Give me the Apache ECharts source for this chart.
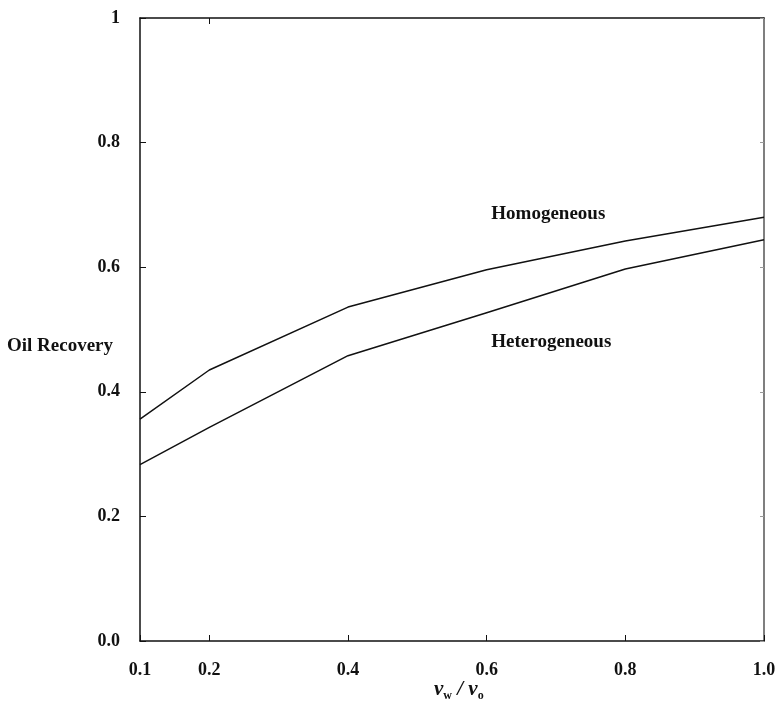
<!DOCTYPE html>
<html>
<head>
<meta charset="utf-8">
<script src="https://cdn.jsdelivr.net/npm/echarts@6/dist/echarts.min.js"></script>
<style>
  html, body { margin: 0; padding: 0; background: #fff; }
  #chart { width: 781px; height: 724px; }
</style>
</head>
<body>
<div id="chart"></div>
<script>
// velocity ratio vw / vo
const ratios = [0.1, 0.2, 0.4, 0.6, 0.8, 1.0];
const homogeneous = [0.356, 0.435, 0.536, 0.596, 0.642, 0.680];
const heterogeneous = [0.283, 0.343, 0.458, 0.527, 0.597, 0.644];
const xTicks = [0.1, 0.2, 0.4, 0.6, 0.8, 1.0];

const FONT = 'Liberation Serif';
const INK = '#111';

const chart = echarts.init(document.getElementById('chart'));

const toPairs = ys => ratios.map((x, i) => [x, ys[i]]);

const lineSeries = (name, ys, labelAt) => ({
  name,
  type: 'line',
  data: toPairs(ys),
  symbol: 'none',
  silent: true,
  lineStyle: { color: INK, width: 1.5 },
  markPoint: {
    symbol: 'circle',
    symbolSize: 1,
    silent: true,
    itemStyle: { color: 'rgba(0,0,0,0)' },
    label: {
      show: true,
      position: 'right',
      distance: 0,
      formatter: name,
      color: INK,
      fontFamily: FONT,
      fontSize: 19,
      fontWeight: 'bold'
    },
    data: [{ coord: labelAt }]
  }
});

chart.setOption({
  animation: false,
  backgroundColor: '#fff',
  grid: { left: 140, top: 18, right: 17, bottom: 83 },
  xAxis: [
    {
      type: 'value',
      min: 0.1,
      max: 1.0,
      axisLine: { onZero: false, lineStyle: { color: INK, width: 1.5 } },
      axisTick: { inside: true, length: 6, customValues: xTicks, lineStyle: { color: INK } },
      axisLabel: {
        customValues: xTicks,
        formatter: v => v.toFixed(1),
        margin: 20,
        color: INK,
        fontFamily: FONT,
        fontSize: 18,
        fontWeight: 'bold'
      },
      splitLine: { show: false }
    },
    {
      type: 'value',
      position: 'top',
      min: 0.1,
      max: 1.0,
      axisLine: { onZero: false, lineStyle: { color: INK, width: 1.5 } },
      axisTick: { inside: true, length: 6, customValues: [0.2], lineStyle: { color: INK } },
      axisLabel: { show: false },
      splitLine: { show: false }
    }
  ],
  yAxis: [
    {
      type: 'value',
      min: 0,
      max: 1,
      interval: 0.2,
      axisLine: { show: true, onZero: false, lineStyle: { color: INK, width: 1.5 } },
      axisTick: { show: true, inside: true, length: 6, lineStyle: { color: INK } },
      axisLabel: {
        formatter: v => (v === 1 ? '1' : v.toFixed(1)),
        margin: 20,
        color: INK,
        fontFamily: FONT,
        fontSize: 18,
        fontWeight: 'bold'
      },
      splitLine: { show: false }
    },
    {
      type: 'value',
      position: 'right',
      min: 0,
      max: 1,
      interval: 0.2,
      axisLine: { show: true, onZero: false, lineStyle: { color: '#555', width: 1.5 } },
      axisTick: { show: true, inside: true, length: 4, lineStyle: { color: '#999' } },
      axisLabel: { show: false },
      splitLine: { show: false }
    }
  ],
  graphic: [
    {
      type: 'text',
      left: 7,
      top: 337,
      style: {
        text: 'Oil Recovery',
        fill: INK,
        font: 'bold 19px "Liberation Serif"'
      }
    },
    {
      type: 'text',
      left: 434,
      top: 679,
      style: {
        text: '{a|ν}{s|w}{a| / ν}{s|o}',
        rich: {
          a: { fontFamily: FONT, fontStyle: 'italic', fontWeight: 'bold', fontSize: 21, fill: INK },
          s: { fontFamily: FONT, fontWeight: 'bold', fontSize: 12, fill: INK, padding: [12, 0, 0, 0] }
        }
      }
    }
  ],
  series: [
    lineSeries('Homogeneous', homogeneous, [0.606, 0.685]),
    lineSeries('Heterogeneous', heterogeneous, [0.606, 0.48])
  ]
});
</script>
</body>
</html>
